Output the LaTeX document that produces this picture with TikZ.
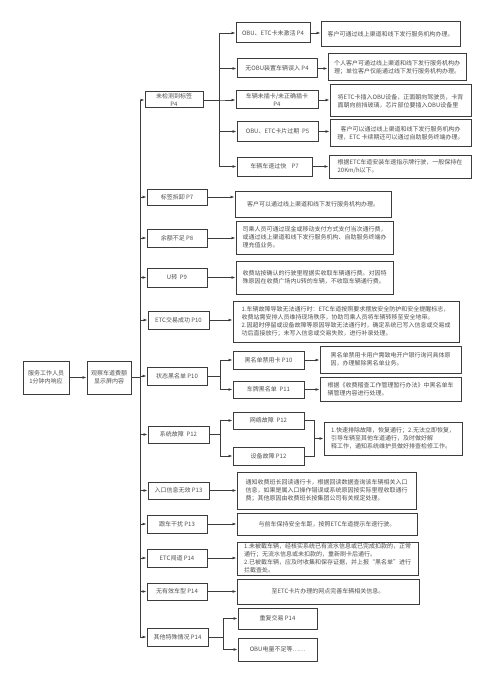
\documentclass[tikz,border=0pt]{standalone}
\usepackage{fontspec}
\setmainfont{Noto Sans CJK SC}
\usetikzlibrary{arrows.meta}
\definecolor{edgegray}{HTML}{3C3C3C}
\definecolor{textgray}{HTML}{505050}

\begin{document}
\begin{tikzpicture}[x=1pt,y=-1pt,
  box/.style={draw=edgegray, line width=1pt, fill=white, inner sep=1pt,
    text=textgray, align=center, font=\fontsize{6}{8}\selectfont},
  desc/.style={box, align=left},
  link/.style={draw=edgegray, line width=0.8pt, -{Latex[length=4pt,width=3pt]}},
  joint/.style={draw=edgegray, line width=0.8pt}]
\useasboundingbox (0,0) rectangle (500,690);
\node[box, minimum width=46, minimum height=33] (serve) at (46,377.5) {服务工作人员\\1分钟内响应};
\node[box, minimum width=44, minimum height=33] (watch) at (109,377.5) {观察车道费额\\显示屏内容};
\node[box, minimum width=58, minimum height=16] (notag) at (174,100) {未检测到标签\\P4};
\node[box, minimum width=60, minimum height=16] (remove) at (177,197) {标签拆卸 P7};
\node[box, minimum width=60, minimum height=18] (balance) at (177,238) {余额不足 P8};
\node[box, minimum width=60, minimum height=19] (uturn) at (177,277.5) {U转\ \ P9};
\node[box, minimum width=61, minimum height=18] (etcok) at (178.5,320) {ETC交易成功 P10};
\node[box, minimum width=60, minimum height=18] (black) at (177,376) {状态黑名单 P10};
\node[box, minimum width=61, minimum height=17] (sysfail) at (178.5,434.5) {系统故障\ \ P12};
\node[box, minimum width=61, minimum height=17] (entry) at (178.5,490.5) {入口信息无效 P13};
\node[box, minimum width=60, minimum height=18] (follow) at (177,524) {跟车干扰 P13};
\node[box, minimum width=60, minimum height=18] (rush) at (177,558) {ETC闯道 P14};
\node[box, minimum width=60, minimum height=17] (model) at (177,591.5) {无有效车型 P14};
\node[box, minimum width=61, minimum height=18] (other) at (177.5,637) {其他特殊情况 P14};
\node[box, minimum width=74, minimum height=20] (inact) at (273,33) {OBU、ETC卡未激活 P4};
\node[box, minimum width=80, minimum height=19] (noobu) at (277,68.5) {无OBU装置车辆误入 P4};
\node[box, minimum width=82, minimum height=18] (nocard) at (277,100) {车辆未插卡/未正确插卡\\P4};
\node[box, minimum width=81, minimum height=19] (expire) at (277.5,131.5) {OBU、ETC卡片过期\ \ P5};
\node[box, minimum width=75, minimum height=19] (speed) at (274.5,166.5) {车辆车速过快\ \ \ \ P7};
\node[box, minimum width=71, minimum height=18] (bcard) at (268.5,360) {黑名单禁用卡 P10};
\node[box, minimum width=71, minimum height=17] (bplate) at (268.5,389.5) {车牌黑名单\ \ P11};
\node[box, minimum width=71, minimum height=17] (net) at (268.5,420.5) {网络故障\ \ P12};
\node[box, minimum width=71, minimum height=18] (dev) at (268.5,456) {设备故障 P12};
\node[box, minimum width=79, minimum height=21] (dup) at (277.5,618.5) {重复交易 P14};
\node[box, minimum width=79, minimum height=23] (power) at (277.5,649.5) {OBU电量不足等……};
\node[desc, minimum width=139, minimum height=25] (dinact) at (390.5,34.5) {客户可通过线上渠道和线下发行服务机构办理。};
\node[desc, minimum width=138, minimum height=27] (dnoobu) at (397,67.5) {个人客户可通过线上渠道和线下发行服务机构办\\理；单位客户仅能通过线下发行服务机构办理。};
\node[desc, minimum width=141, minimum height=32] (dnocard) at (400.5,101) {将ETC卡插入OBU设备，正面朝向驾驶员，卡背\\面朝向前挡玻璃，芯片部位要插入OBU设备里};
\node[box, minimum width=141, minimum height=26] (dexpire) at (400.5,133) {客户可以通过线上渠道和线下发行服务机构办\\理，ETC 卡续期还可以通过自助服务终端办理。};
\node[desc, minimum width=142, minimum height=23] (dspeed) at (400,166.5) {根据ETC车道安装车速指示牌行驶，一般保持在\\20Km/h以下。};
\node[box, minimum width=156, minimum height=26] (dremove) at (313,204) {客户可以通过线上渠道和线下发行服务机构办理。};
\node[desc, minimum width=157, minimum height=33] (dbalance) at (314.5,237.5) {司乘人员可通过现金或移动支付方式支付当次通行费，\\或通过线上渠道和线下发行服务机构、自助服务终端办\\理充值业务。};
\node[desc, minimum width=157, minimum height=33] (duturn) at (314.5,277.5) {收费站按确认的行驶里程据实收取车辆通行费。对因特\\殊原因在收费广场内U转的车辆，不收取车辆通行费。};
\node[desc, minimum width=226, minimum height=41] (detcok) at (346,321.5) {1.车辆故障导致无法通行时：ETC车道按照要求摆放安全防护和安全提醒标志，\\收费站需安排人员维持现场秩序，协助司乘人员将车辆转移至安全地带。\\2.因超时停留或设备故障等原因导致无法通行时，确定系统已写入信息或交易成\\功后直接放行；未写入信息或交易失败，进行补录处理。};
\node[desc, minimum width=141, minimum height=27] (dbcard) at (390.5,359.5) {黑名单禁用卡用户需致电开户银行询问具体原\\因，办理解除黑名单业务。};
\node[desc, minimum width=141, minimum height=24] (dbplate) at (390.5,389) {根据《收费稽查工作管理暂行办法》中黑名单车\\辆管理内容进行处理。};
\node[desc, minimum width=138, minimum height=33] (dsys) at (393,438.5) {1.快速排除故障，恢复通行；2.无法立即恢复，\\引导车辆至其他车道通行，及时做好解\\释工作，通知系统维护员做好排查检修工作。};
\node[desc, minimum width=179, minimum height=37] (dentry) at (326.5,490.5) {通知收费班长回读通行卡，根据回读数据查询该车辆相关入口\\信息，如果是属入口操作错误或系统原因按实际里程收取通行\\费；其他原因由收费班长按集团公司有关规定处理。};
\node[box, minimum width=180, minimum height=22] (dfollow) at (327,524) {与前车保持安全车距，按照ETC车道提示车速行驶。};
\node[desc, minimum width=181, minimum height=33] (drush) at (327.5,558.5) {1.未被截车辆，经核实系统已有流水信息或已完成扣款的，正常\\通行；无流水信息或未扣款的，重新刷卡后通行。\\2.已被截车辆，应及时收集和保存证据，并上报“黑名单”进行\\拦截查处。};
\node[box, minimum width=182, minimum height=25] (dmodel) at (328,591.5) {至ETC卡片办理的网点完善车辆相关信息。};
\coordinate (bus) at (140,377.5);
\coordinate (busa) at (219,100);
\coordinate (busb) at (220,376);
\coordinate (busc) at (220,434.5);
\coordinate (busd) at (223,637);
\coordinate (merge) at (314,438.5);
\draw[link] (serve) -- (watch);
\foreach \n in {notag,remove,balance,uturn,etcok,black,sysfail,entry,follow,rush,model,other}
  \draw[link] (watch.east) -- (bus) |- (\n.west);
\foreach \n in {inact,noobu,nocard,expire,speed}
  \draw[link] (notag.east) -- (busa) |- (\n.west);
\foreach \n in {bcard,bplate}
  \draw[link] (black.east) -- (busb) |- (\n.west);
\foreach \n in {net,dev}
  \draw[link] (sysfail.east) -- (busc) |- (\n.west);
\foreach \n in {dup,power}
  \draw[link] (other.east) -- (busd) |- (\n.west);
\foreach \a/\b in {inact/dinact,noobu/dnoobu,nocard/dnocard,expire/dexpire,speed/dspeed,
    remove/dremove,balance/dbalance,uturn/duturn,etcok/detcok,bcard/dbcard,bplate/dbplate,
    entry/dentry,follow/dfollow,rush/drush,model/dmodel}
  \draw[link] (\a.east) -- (\a.east -| \b.west);
\draw[joint] (net.east) -| (merge);
\draw[joint] (dev.east) -| (merge);
\draw[link] (merge) -- (dsys.west);
\end{tikzpicture}
\end{document}
